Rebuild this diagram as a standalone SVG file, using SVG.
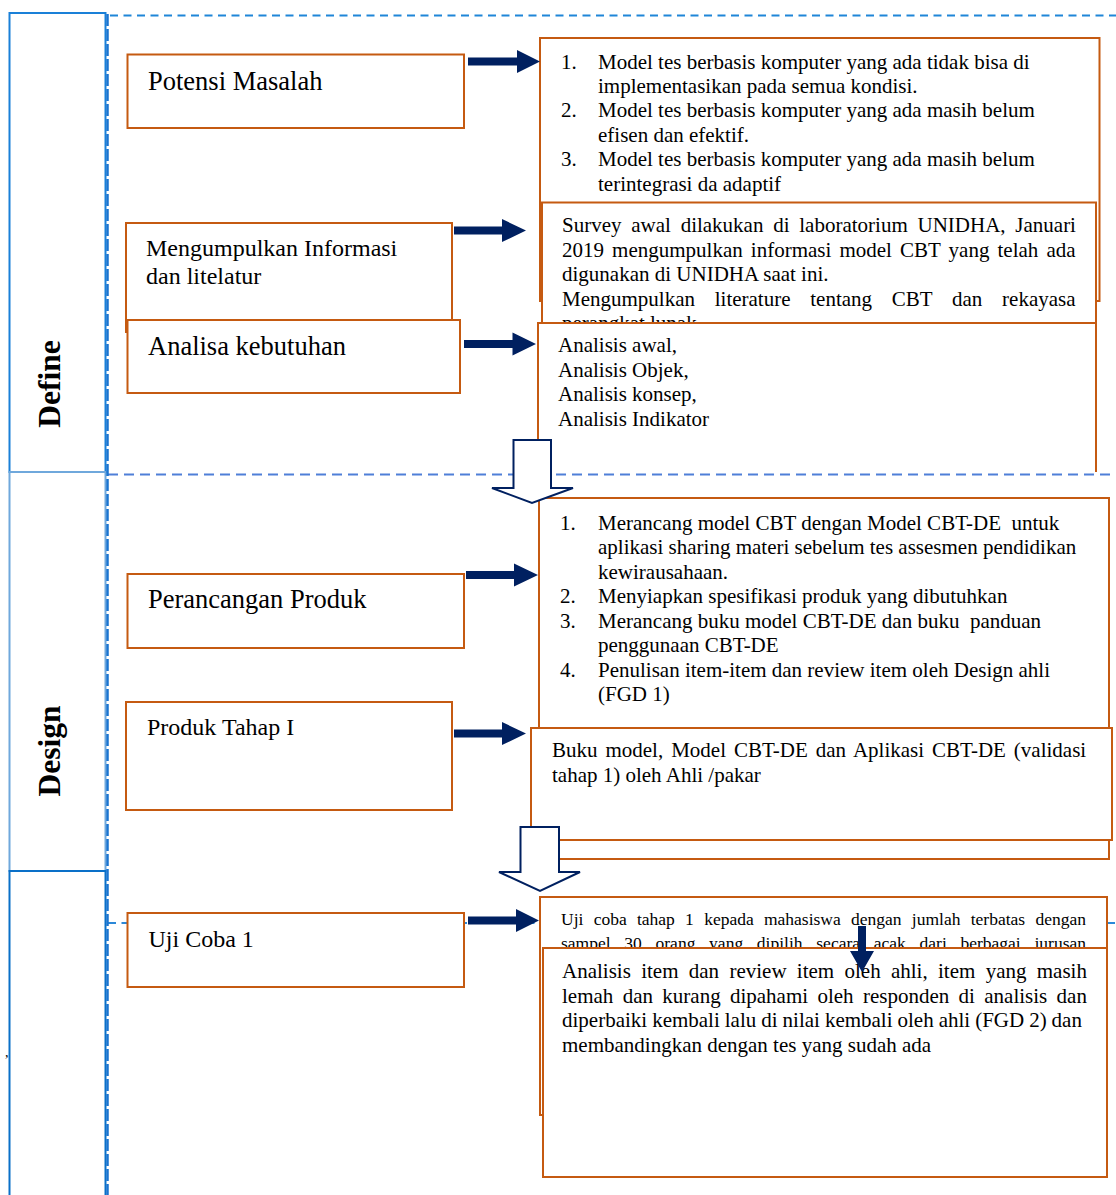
<svg xmlns="http://www.w3.org/2000/svg" width="1116" height="1195" viewBox="0 0 1116 1195">
<style>
.box{fill:#fff;stroke:#c55a11;stroke-width:2}
.open{fill:#fff;stroke:#c55a11;stroke-width:2}
.t{font-family:"Liberation Serif","Times New Roman",serif;fill:#000}
.lbl{font-size:24px}
.lbl2{font-size:26.5px}
.body{font-size:21px}
.small{font-size:17.5px}
.arrow{fill:#002060}
.hollow{fill:#fff;stroke:#002060;stroke-width:2}
.phase{font-family:"Liberation Serif","Times New Roman",serif;font-weight:bold;font-size:31.5px;fill:#000}
</style>
<rect width="1116" height="1195" fill="#fff"/>

<g id="lanes">
  <rect x="9.5" y="13" width="96" height="459" fill="#fff" stroke="#1a80d8" stroke-width="2"/>
  <rect x="9.5" y="472" width="96" height="399" fill="#fff" stroke="#6fa8dc" stroke-width="2"/>
  <rect x="9.5" y="871" width="96" height="340" fill="#fff" stroke="#0a70c8" stroke-width="2"/>
  <text class="phase" text-anchor="middle" transform="translate(60,384) rotate(-90)">Define</text>
  <text class="phase" text-anchor="middle" transform="translate(60,751) rotate(-90)">Design</text>
  <text class="t" x="5" y="1057" font-size="14">,</text>
  <line x1="110" y1="15.5" x2="1116" y2="15.5" stroke="#1f86d8" stroke-width="2" stroke-dasharray="8 5.5"/>
  <line x1="108" y1="474.5" x2="1116" y2="474.5" stroke="#4f7fd8" stroke-width="2" stroke-dasharray="10 6"/>
  <line x1="108" y1="923" x2="1116" y2="923" stroke="#2b88d8" stroke-width="2" stroke-dasharray="8 5.5"/>
  <line x1="107.5" y1="14" x2="107.5" y2="1195" stroke="#1a74d0" stroke-width="2.5" stroke-dasharray="12 3"/>
</g>

<g id="potensi-masalah">
  <rect class="box" x="127.5" y="54.5" width="336.5" height="73.5"/>
  <text class="t lbl2" x="148" y="90">Potensi Masalah</text>
</g>
<g id="masalah-detail">
  <rect class="box" x="540" y="38" width="559.5" height="263"/>
  <g class="t body">
    <text x="561" y="68.5">1.</text><text x="598" y="68.5">Model tes berbasis komputer yang ada tidak bisa di</text>
    <text x="598" y="92.9">implementasikan pada semua kondisi.</text>
    <text x="561" y="117.3">2.</text><text x="598" y="117.3">Model tes berbasis komputer yang ada masih belum</text>
    <text x="598" y="141.7">efisen dan efektif.</text>
    <text x="561" y="166.1">3.</text><text x="598" y="166.1">Model tes berbasis komputer yang ada masih belum</text>
    <text x="598" y="190.5">terintegrasi da adaptif</text>
  </g>
</g>
<g id="survey-detail">
  <rect class="box" x="542" y="202.5" width="554" height="143"/>
  <g class="t body">
    <text x="562" y="232" word-spacing="4.5">Survey awal dilakukan di laboratorium UNIDHA, Januari</text>
    <text x="562" y="256.5" word-spacing="2.85">2019 mengumpulkan informasi model CBT yang telah ada</text>
    <text x="562" y="281">digunakan di UNIDHA saat ini.</text>
    <text x="562" y="305.5" word-spacing="14.5">Mengumpulkan literature tentang CBT dan rekayasa</text>
    <text x="562" y="329.5">perangkat lunak</text>
  </g>
</g>
<g id="mengumpulkan-informasi">
  <rect class="box" x="126" y="223" width="326" height="109"/>
  <text class="t lbl" x="146" y="255.5">Mengumpulkan Informasi</text>
  <text class="t lbl" x="146" y="283.5">dan litelatur</text>
</g>
<g id="analisa-kebutuhan">
  <rect class="box" x="127.5" y="320" width="332.5" height="73"/>
  <text class="t lbl2" x="148" y="355">Analisa kebutuhan</text>
</g>
<g id="analisis-detail">
  <rect x="538" y="323" width="558" height="150" fill="#fff"/>
  <path class="open" d="M538,472 V323 H1096 V472" fill="none"/>
  <g class="t body">
    <text x="558" y="352">Analisis awal,</text>
    <text x="558" y="376.5">Analisis Objek,</text>
    <text x="558" y="401">Analisis konsep,</text>
    <text x="558" y="425.5">Analisis Indikator</text>
  </g>
</g>

<g id="design-detail">
  <rect class="box" x="539" y="498" width="570" height="361"/>
  <g class="t body">
    <text x="560" y="529.5">1.</text><text x="598" y="529.5" xml:space="preserve">Merancang model CBT dengan Model CBT-DE  untuk</text>
    <text x="598" y="554">aplikasi sharing materi sebelum tes assesmen pendidikan</text>
    <text x="598" y="578.5">kewirausahaan.</text>
    <text x="560" y="603">2.</text><text x="598" y="603">Menyiapkan spesifikasi produk yang dibutuhkan</text>
    <text x="560" y="627.5">3.</text><text x="598" y="627.5" xml:space="preserve">Merancang buku model CBT-DE dan buku  panduan</text>
    <text x="598" y="652">penggunaan CBT-DE</text>
    <text x="560" y="676.5">4.</text><text x="598" y="676.5">Penulisan item-item dan review item oleh Design ahli</text>
    <text x="598" y="701">(FGD 1)</text>
  </g>
</g>
<g id="perancangan-produk">
  <rect class="box" x="127.5" y="574" width="336.5" height="74"/>
  <text class="t lbl2" x="148" y="608">Perancangan Produk</text>
</g>
<g id="produk-tahap-1">
  <rect class="box" x="126" y="702" width="326" height="108"/>
  <text class="t lbl" x="147" y="735">Produk Tahap I</text>
</g>
<g id="validasi-detail">
  <rect class="box" x="531" y="728" width="581" height="112"/>
  <g class="t body">
    <text x="552" y="757" word-spacing="2.7">Buku model, Model CBT-DE dan Aplikasi CBT-DE (validasi</text>
    <text x="552" y="781.5">tahap 1) oleh Ahli /pakar</text>
  </g>
</g>

<g id="uji-coba-1">
  <rect class="box" x="127.5" y="913" width="336.5" height="74"/>
  <text class="t lbl" x="148.5" y="947">Uji Coba 1</text>
</g>
<g id="uji-coba-detail">
  <rect class="box" x="540" y="897" width="567" height="218"/>
  <g class="t small">
    <text x="561" y="925" word-spacing="5.9">Uji coba tahap 1 kepada mahasiswa dengan jumlah terbatas dengan</text>
    <text x="561" y="949" word-spacing="9.36">sampel 30 orang yang dipilih secara acak dari berbagai jurusan</text>
  </g>
</g>
<g id="analisis-item-detail">
  <rect class="box" x="543" y="948" width="564" height="229"/>
  <g class="t body">
    <text x="562" y="978" word-spacing="5.06">Analisis item dan review item oleh ahli, item yang masih</text>
    <text x="562" y="1002.5" word-spacing="4.09">lemah dan kurang dipahami oleh responden di analisis dan</text>
    <text x="562" y="1027" word-spacing="-0.26">diperbaiki kembali lalu di nilai kembali oleh ahli (FGD 2) dan</text>
    <text x="562" y="1051.5">membandingkan dengan tes yang sudah ada</text>
  </g>
</g>

<g id="connectors">
  <path class="arrow" d="M468,57.5 H517 V50 L540,61.5 L517,73 V65.5 H468 Z"/>
  <path class="arrow" d="M454,226.5 H502 V219 L526,230.5 L502,242 V234.5 H454 Z"/>
  <path class="arrow" d="M464,340 H512.5 V332.5 L536,344 L512.5,355.5 V348 H464 Z"/>
  <path class="arrow" d="M466,571 H514 V563.5 L538,575 L514,586.5 V579 H466 Z"/>
  <path class="arrow" d="M454,729.5 H502 V722 L526,733.5 L502,745 V737.5 H454 Z"/>
  <path class="arrow" d="M468,916.5 H516 V909 L539,920.5 L516,932 V924.5 H468 Z"/>
  <path class="arrow" d="M858,926 H866 V951 H874 L862,972 L850,951 H858 Z"/>
  <path class="hollow" d="M513.5,440 H551 V488 H573 L532,503 L492,488 H513.5 Z"/>
  <path class="hollow" d="M520.5,827 H559 V872 H580 L540,891 L499,872 H520.5 Z"/>
</g>
</svg>
